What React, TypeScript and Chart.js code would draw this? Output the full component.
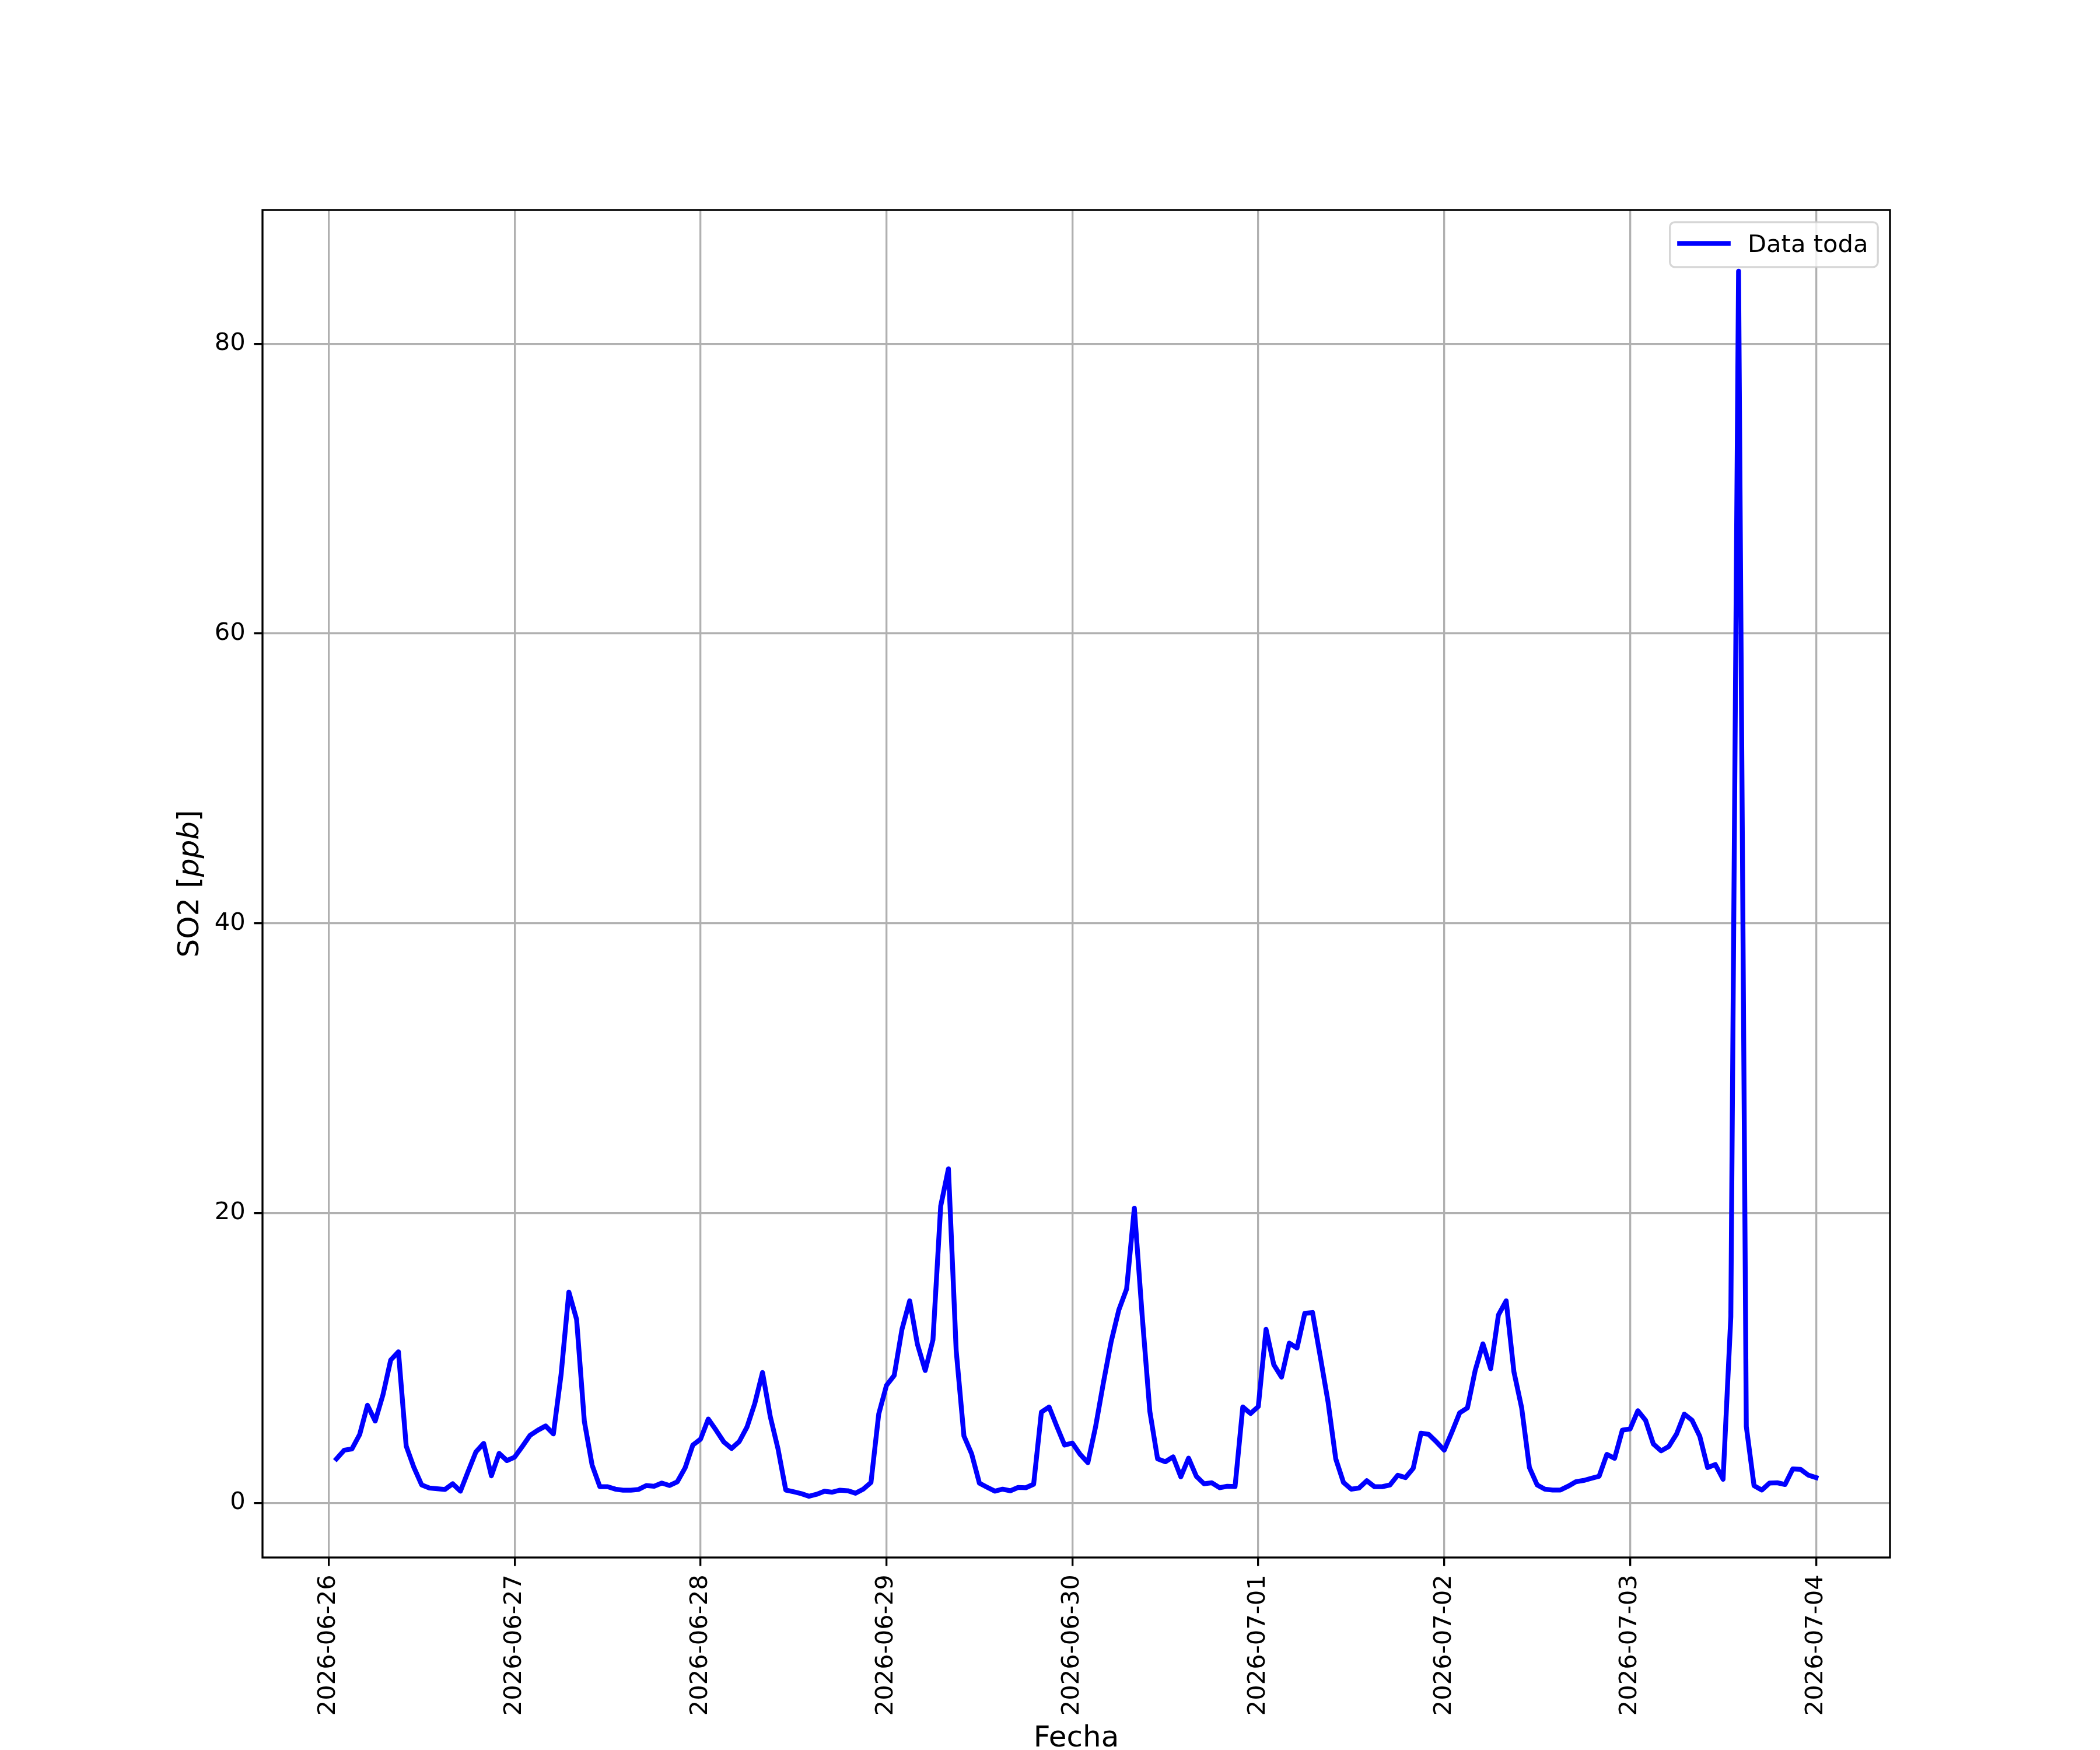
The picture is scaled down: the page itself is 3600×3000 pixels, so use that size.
import React, { useEffect, useRef } from 'react';
import { Chart, registerables } from 'chart.js';

Chart.register(...registerables);

// ---- data ----
const dateLabels = [
  '2026-06-26', '2026-06-27', '2026-06-28', '2026-06-29', '2026-06-30',
  '2026-07-01', '2026-07-02', '2026-07-03', '2026-07-04',
];

// hourly SO2 [ppb], from 2026-06-26 01:00 to 2026-07-04 00:00
const so2Values = [
  3.04, 3.64, 3.73, 4.73, 6.74, 5.65, 7.46, 9.86, 10.43, 3.93, 2.44, 1.24,
  1.03, 0.98, 0.93, 1.32, 0.81, 2.18, 3.52, 4.11, 1.87, 3.42, 2.92, 3.16,
  3.90, 4.67, 5.02, 5.31, 4.76, 8.88, 14.55, 12.66, 5.62, 2.61, 1.12, 1.12,
  0.95, 0.88, 0.88, 0.93, 1.20, 1.15, 1.37, 1.20, 1.46, 2.41, 3.99, 4.40,
  5.79, 5.02, 4.21, 3.76, 4.24, 5.24, 6.86, 9.00, 5.96, 3.73, 0.89, 0.77,
  0.64, 0.46, 0.60, 0.81, 0.74, 0.88, 0.84, 0.67, 0.95, 1.41, 6.13, 8.11,
  8.80, 11.98, 13.95, 10.94, 9.14, 11.25, 20.48, 23.06, 10.52, 4.62, 3.38, 1.36,
  1.08, 0.81, 0.95, 0.84, 1.07, 1.05, 1.29, 6.27, 6.62, 5.27, 3.99, 4.13,
  3.35, 2.78, 5.27, 8.28, 11.12, 13.32, 14.76, 20.34, 13.0, 6.31, 3.04, 2.84,
  3.18, 1.80, 3.09, 1.84, 1.32, 1.39, 1.05, 1.15, 1.13, 6.62, 6.17, 6.65,
  11.98, 9.54, 8.68, 11.03, 10.69, 13.08, 13.14, 10.1, 6.99, 3.04, 1.41, 0.95,
  1.03, 1.53, 1.12, 1.12, 1.24, 1.91, 1.75, 2.39, 4.81, 4.73, 4.21, 3.64,
  4.89, 6.22, 6.56, 9.14, 10.98, 9.26, 12.97, 13.95, 9.05, 6.56, 2.44, 1.24,
  0.95, 0.89, 0.89, 1.15, 1.46, 1.55, 1.70, 1.84, 3.35, 3.08, 5.02, 5.10,
  6.36, 5.70, 4.07, 3.59, 3.90, 4.76, 6.13, 5.70, 4.59, 2.44, 2.65, 1.63,
  12.84, 85.0, 5.27, 1.19, 0.89, 1.37, 1.39, 1.27, 2.35, 2.32, 1.92, 1.75,
];

const yTickValues = [0, 20, 40, 60, 80];
const seriesLabel = 'Data toda';
const xTitle = 'Fecha';
const yTitleParts = [
  { text: 'SO2 [', italic: false },
  { text: 'ppb', italic: true },
  { text: ']', italic: false },
];

// ---- styling ----
const PT = 300 / 72;
const FONT = 'DejaVu Sans';
const TICK_FS = 10 * PT;
const LABEL_FS = 12 * PT;
const LINE_BLUE = '#0000ff';

const overlayPlugin = {
  id: 'mplOverlay',
  afterDatasetsDraw(chart: any) {
    const { ctx, chartArea: ca } = chart;
    ctx.save();
    ctx.strokeStyle = '#000000';
    ctx.lineWidth = 0.8 * PT;
    ctx.strokeRect(ca.left, ca.top, ca.right - ca.left, ca.bottom - ca.top);
    ctx.restore();
  },
  afterDraw(chart: any) {
    const { ctx, chartArea: ca } = chart;
    ctx.save();
    // legend
    const fs = TICK_FS;
    ctx.font = `${fs}px "${FONT}"`;
    const textW = ctx.measureText(seriesLabel).width;
    const w = 0.4 * fs * 2 + 2 * fs + 0.8 * fs + textW;
    const h = 77;
    const right = ca.right - 0.5 * fs;
    const top = ca.top + 0.5 * fs;
    const left = right - w;
    const r = 0.2 * fs;
    ctx.beginPath();
    ctx.moveTo(left + r, top);
    ctx.lineTo(right - r, top);
    ctx.arcTo(right, top, right, top + r, r);
    ctx.lineTo(right, top + h - r);
    ctx.arcTo(right, top + h, right - r, top + h, r);
    ctx.lineTo(left + r, top + h);
    ctx.arcTo(left, top + h, left, top + h - r, r);
    ctx.lineTo(left, top + r);
    ctx.arcTo(left, top, left + r, top, r);
    ctx.closePath();
    ctx.fillStyle = 'rgba(255,255,255,0.8)';
    ctx.fill();
    ctx.strokeStyle = 'rgba(204,204,204,0.8)';
    ctx.lineWidth = 0.8 * PT;
    ctx.stroke();
    const hx0 = left + 0.4 * fs;
    const hy = top + h / 2 - 2;
    ctx.beginPath();
    ctx.moveTo(hx0, hy);
    ctx.lineTo(hx0 + 2 * fs, hy);
    ctx.strokeStyle = LINE_BLUE;
    ctx.lineWidth = 2 * PT;
    ctx.lineCap = 'square';
    ctx.stroke();
    ctx.fillStyle = '#000000';
    ctx.textAlign = 'left';
    ctx.textBaseline = 'alphabetic';
    ctx.fillText(seriesLabel, hx0 + 2.8 * fs, top + 51);

    // x title
    ctx.font = `${LABEL_FS}px "${FONT}"`;
    ctx.textAlign = 'center';
    ctx.fillText(xTitle, (ca.left + ca.right) / 2, 2994);

    // y title (rotated, with italic part)
    const partFont = (it: boolean) => `${it ? 'oblique ' : ''}${LABEL_FS}px "${FONT}"`;
    let total = 0;
    const widths = yTitleParts.map((p) => {
      ctx.font = partFont(p.italic);
      const pw = ctx.measureText(p.text).width;
      total += pw;
      return pw;
    });
    ctx.translate(340, (ca.top + ca.bottom) / 2);
    ctx.rotate(-Math.PI / 2);
    ctx.textAlign = 'left';
    let cx = -total / 2;
    yTitleParts.forEach((p, i) => {
      ctx.font = partFont(p.italic);
      ctx.fillText(p.text, cx, 0);
      cx += widths[i];
    });
    ctx.restore();
  },
};

export default function App() {
  const ref = useRef<HTMLCanvasElement>(null);
  useEffect(() => {
    document.body.style.margin = '0';
    const canvas = ref.current;
    if (!canvas) return;
    const points = so2Values.map((v, i) => ({ x: i + 1, y: v }));
    const n = so2Values.length;
    const xPad = 0.05 * (n - 1);
    const vMin = Math.min(...so2Values);
    const vMax = Math.max(...so2Values);
    const yPad = 0.05 * (vMax - vMin);

    const gridCommon = {
      color: '#b0b0b0',
      lineWidth: 0.8 * PT,
      tickColor: '#000000',
      tickWidth: 0.8 * PT,
      tickLength: 3.5 * PT,
      drawTicks: true,
    };

    const chart = new Chart(canvas, {
      type: 'line',
      data: {
        datasets: [
          {
            label: seriesLabel,
            data: points,
            borderColor: LINE_BLUE,
            backgroundColor: LINE_BLUE,
            borderWidth: 2 * PT,
            pointRadius: 0,
            fill: false,
            tension: 0,
            borderJoinStyle: 'round',
            borderCapStyle: 'square',
          },
        ],
      },
      options: {
        responsive: false,
        animation: false,
        devicePixelRatio: 1,
        layout: { padding: { left: 250, right: 360, top: 360, bottom: 30 } },
        plugins: {
          legend: { display: false },
          tooltip: { enabled: false },
          title: { display: false },
        },
        scales: {
          x: {
            type: 'linear',
            min: 1 - xPad,
            max: n + xPad,
            afterBuildTicks: (axis: any) => {
              axis.ticks = dateLabels.map((_, i) => ({ value: i * 24 }));
            },
            afterFit: (axis: any) => {
              axis.height = 300;
            },
            grid: gridCommon,
            border: { display: false },
            ticks: {
              autoSkip: false,
              minRotation: 90,
              maxRotation: 90,
              padding: 3.5 * PT,
              color: '#000000',
              font: { family: FONT, size: TICK_FS },
              callback: (v: any) => dateLabels[Math.round(Number(v) / 24)] ?? '',
            },
          },
          y: {
            type: 'linear',
            min: vMin - yPad,
            max: vMax + yPad,
            afterBuildTicks: (axis: any) => {
              axis.ticks = yTickValues.map((v) => ({ value: v }));
            },
            afterFit: (axis: any) => {
              axis.width = 200;
            },
            grid: gridCommon,
            border: { display: false },
            ticks: {
              padding: 3.5 * PT,
              color: '#000000',
              font: { family: FONT, size: TICK_FS },
              callback: (v: any) => String(v),
            },
          },
        },
      },
      plugins: [overlayPlugin],
    } as any);
    return () => chart.destroy();
  }, []);

  return (
    <canvas
      ref={ref}
      width={3600}
      height={3000}
      style={{ display: 'block', width: '3600px', height: '3000px' }}
    />
  );
}
